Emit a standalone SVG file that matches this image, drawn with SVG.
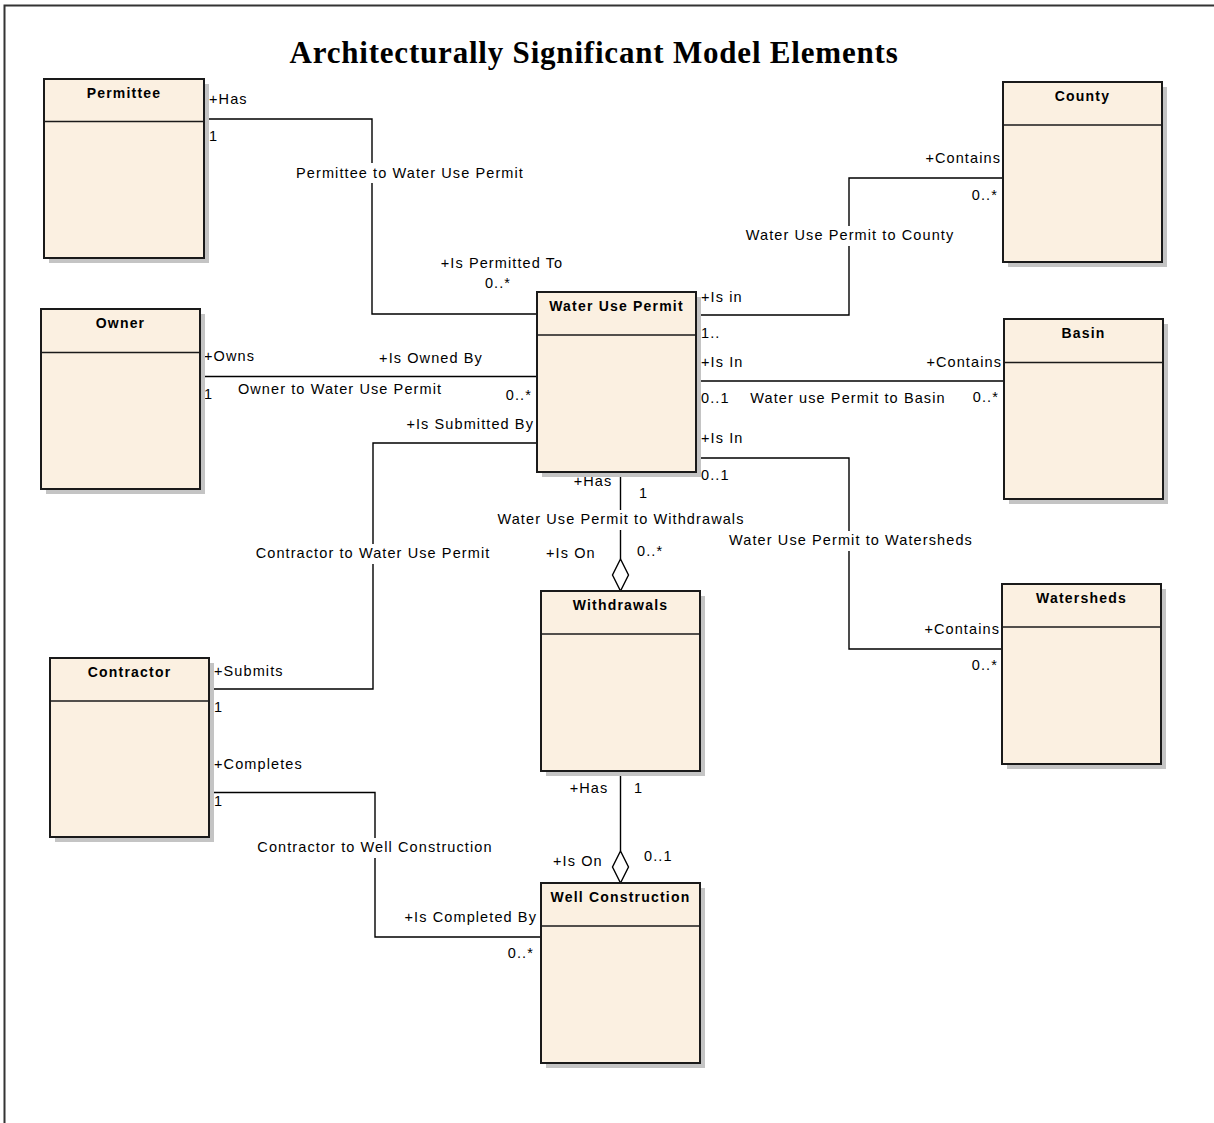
<svg xmlns="http://www.w3.org/2000/svg" width="1214" height="1123" viewBox="0 0 1214 1123">
  <style>
    .frame { fill: none; stroke: #333; stroke-width: 2; }
    .shadow { fill: #c4c4c4; }
    .box { fill: #fbf0e1; stroke: #1a1a1a; stroke-width: 2; }
    .div { stroke: #1a1a1a; stroke-width: 1.6; }
    .name { font-family: "Liberation Sans", Arial, sans-serif; font-size: 14px; font-weight: bold; letter-spacing: 1.2px; text-anchor: middle; fill: #000; }
    .conn { fill: none; stroke: #000; stroke-width: 1.4; }
    .dia { fill: #fff; stroke: #000; stroke-width: 1.4; }
    .bg { fill: #fff; }
    .lbl { font-family: "Liberation Sans", Arial, sans-serif; font-size: 14.5px; letter-spacing: 1.1px; fill: #000; }
    .m { text-anchor: middle; }
    .e { text-anchor: end; }
    .title { font-family: "Liberation Serif", "Times New Roman", serif; font-size: 31px; font-weight: bold; letter-spacing: 0.8px; text-anchor: middle; fill: #000; }
  </style>

  <rect x="0" y="0" width="1214" height="1123" fill="#fff"/>
  <!-- diagram frame -->
  <path class="frame" d="M4.5,1123 V5.5 H1214"/>

  <text class="title" x="594" y="63">Architecturally Significant Model Elements</text>

  <!-- associations -->
  <g id="connectors">
    <path class="conn" d="M204,119 H372 V314 H537"/>
    <path class="conn" d="M200,376.5 H537"/>
    <path class="conn" d="M537,443 H373 V689 H209"/>
    <path class="conn" d="M209,792.5 H375 V937 H541"/>
    <path class="conn" d="M696,315 H849 V178 H1003"/>
    <path class="conn" d="M696,381 H1004"/>
    <path class="conn" d="M696,458 H849 V649 H1002"/>
    <path class="conn" d="M620.5,472 V559"/>
    <path class="dia" d="M620.5,559 L628.5,575 L620.5,591 L612.5,575 Z"/>
    <path class="conn" d="M620.5,771 V851"/>
    <path class="dia" d="M620.5,851 L628.5,867 L620.5,883 L612.5,867 Z"/>

    <!-- association name backgrounds -->
    <rect class="bg" x="295" y="163" width="230" height="20"/>
    <rect class="bg" x="255" y="544" width="236" height="20"/>
    <rect class="bg" x="257" y="838" width="236" height="20"/>
    <rect class="bg" x="746" y="226" width="208" height="20"/>
    <rect class="bg" x="499" y="510" width="244" height="20"/>
    <rect class="bg" x="730" y="531" width="242" height="20"/>

    <!-- Permittee to Water Use Permit -->
    <text class="lbl" x="209" y="104">+Has</text>
    <text class="lbl" x="209" y="141">1</text>
    <text class="lbl m" x="410" y="178">Permittee to Water Use Permit</text>
    <text class="lbl m" x="502" y="268">+Is Permitted To</text>
    <text class="lbl m" x="498" y="288">0..*</text>

    <!-- Owner to Water Use Permit -->
    <text class="lbl" x="204" y="361">+Owns</text>
    <text class="lbl" x="204" y="399">1</text>
    <text class="lbl m" x="431" y="363">+Is Owned By</text>
    <text class="lbl m" x="340" y="394">Owner to Water Use Permit</text>
    <text class="lbl e" x="532" y="400">0..*</text>

    <!-- Contractor to Water Use Permit -->
    <text class="lbl e" x="534" y="429">+Is Submitted By</text>
    <text class="lbl m" x="373" y="558">Contractor to Water Use Permit</text>
    <text class="lbl" x="214" y="676">+Submits</text>
    <text class="lbl" x="214" y="712">1</text>

    <!-- Contractor to Well Construction -->
    <text class="lbl" x="214" y="769">+Completes</text>
    <text class="lbl" x="214" y="806">1</text>
    <text class="lbl m" x="375" y="852">Contractor to Well Construction</text>
    <text class="lbl e" x="537" y="922">+Is Completed By</text>
    <text class="lbl e" x="534" y="958">0..*</text>

    <!-- Water Use Permit to County -->
    <text class="lbl" x="701" y="302">+Is in</text>
    <text class="lbl" x="701" y="338">1..</text>
    <text class="lbl m" x="850" y="240">Water Use Permit to County</text>
    <text class="lbl e" x="1001" y="163">+Contains</text>
    <text class="lbl e" x="998" y="200">0..*</text>

    <!-- Water use Permit to Basin -->
    <text class="lbl" x="701" y="367">+Is In</text>
    <text class="lbl" x="701" y="403">0..1</text>
    <text class="lbl m" x="848" y="403">Water use Permit to Basin</text>
    <text class="lbl e" x="1002" y="367">+Contains</text>
    <text class="lbl e" x="999" y="402">0..*</text>

    <!-- Water Use Permit to Watersheds -->
    <text class="lbl" x="701" y="443">+Is In</text>
    <text class="lbl" x="701" y="480">0..1</text>
    <text class="lbl m" x="851" y="545">Water Use Permit to Watersheds</text>
    <text class="lbl e" x="1000" y="634">+Contains</text>
    <text class="lbl e" x="998" y="670">0..*</text>

    <!-- Water Use Permit to Withdrawals -->
    <text class="lbl m" x="593" y="486">+Has</text>
    <text class="lbl" x="639" y="498">1</text>
    <text class="lbl m" x="621" y="524">Water Use Permit to Withdrawals</text>
    <text class="lbl" x="546" y="558">+Is On</text>
    <text class="lbl" x="637" y="556">0..*</text>

    <!-- Withdrawals to Well Construction -->
    <text class="lbl m" x="589" y="793">+Has</text>
    <text class="lbl" x="634" y="793">1</text>
    <text class="lbl" x="553" y="866">+Is On</text>
    <text class="lbl" x="644" y="861">0..1</text>
  </g>

  <!-- classes -->
  <g id="permittee">
    <rect class="shadow" x="49" y="84" width="160" height="179"/>
    <rect class="box" x="44" y="79" width="160" height="179"/>
    <line class="div" x1="44" y1="121.5" x2="204" y2="121.5"/>
    <text class="name" x="124" y="98">Permittee</text>
  </g>

  <g id="owner">
    <rect class="shadow" x="46" y="314" width="159" height="180"/>
    <rect class="box" x="41" y="309" width="159" height="180"/>
    <line class="div" x1="41" y1="352.5" x2="200" y2="352.5"/>
    <text class="name" x="120.5" y="328">Owner</text>
  </g>

  <g id="contractor">
    <rect class="shadow" x="55" y="663" width="159" height="179"/>
    <rect class="box" x="50" y="658" width="159" height="179"/>
    <line class="div" x1="50" y1="701" x2="209" y2="701"/>
    <text class="name" x="129.5" y="677">Contractor</text>
  </g>

  <g id="water-use-permit">
    <rect class="shadow" x="542" y="297" width="159" height="180"/>
    <rect class="box" x="537" y="292" width="159" height="180"/>
    <line class="div" x1="537" y1="335" x2="696" y2="335"/>
    <text class="name" x="616.5" y="311">Water Use Permit</text>
  </g>

  <g id="county">
    <rect class="shadow" x="1008" y="87" width="159" height="180"/>
    <rect class="box" x="1003" y="82" width="159" height="180"/>
    <line class="div" x1="1003" y1="125" x2="1162" y2="125"/>
    <text class="name" x="1082.5" y="101">County</text>
  </g>

  <g id="basin">
    <rect class="shadow" x="1009" y="324" width="159" height="180"/>
    <rect class="box" x="1004" y="319" width="159" height="180"/>
    <line class="div" x1="1004" y1="362.5" x2="1163" y2="362.5"/>
    <text class="name" x="1083.5" y="338">Basin</text>
  </g>

  <g id="watersheds">
    <rect class="shadow" x="1007" y="589" width="159" height="180"/>
    <rect class="box" x="1002" y="584" width="159" height="180"/>
    <line class="div" x1="1002" y1="627" x2="1161" y2="627"/>
    <text class="name" x="1081.5" y="603">Watersheds</text>
  </g>

  <g id="withdrawals">
    <rect class="shadow" x="546" y="596" width="159" height="180"/>
    <rect class="box" x="541" y="591" width="159" height="180"/>
    <line class="div" x1="541" y1="634" x2="700" y2="634"/>
    <text class="name" x="620.5" y="610">Withdrawals</text>
  </g>

  <g id="well-construction">
    <rect class="shadow" x="546" y="888" width="159" height="180"/>
    <rect class="box" x="541" y="883" width="159" height="180"/>
    <line class="div" x1="541" y1="926" x2="700" y2="926"/>
    <text class="name" x="620.5" y="902">Well Construction</text>
  </g>
</svg>
